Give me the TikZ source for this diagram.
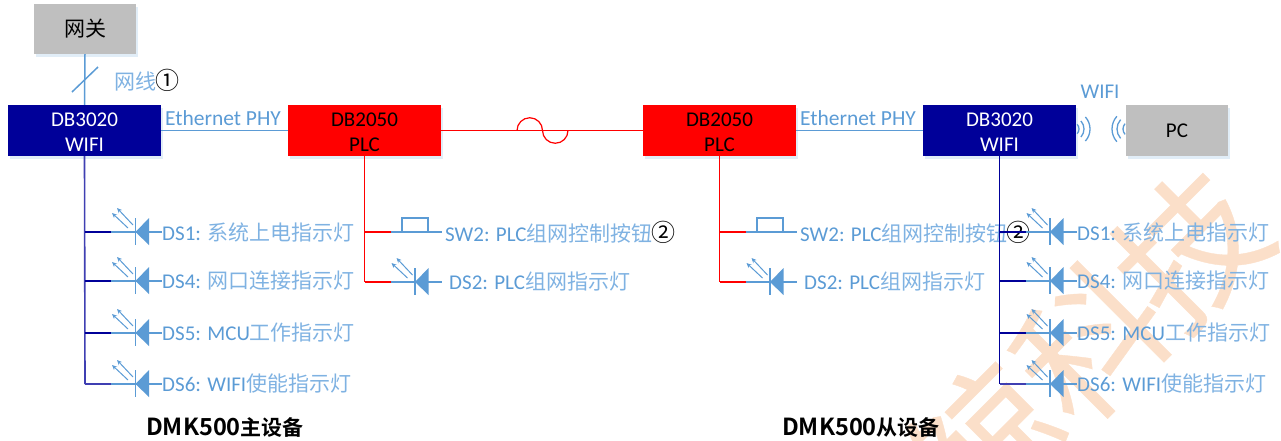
\documentclass[tikz,border=0pt]{standalone}
\usepackage{fontspec}
\setmainfont{Carlito}
\newfontfamily\cn{Noto Sans CJK SC}
\newfontfamily\cnb{Noto Sans CJK SC}[BoldFont={Noto Sans CJK SC Bold}]
\newfontfamily\wmf{Noto Sans CJK SC}[FakeBold=0.25]
\usetikzlibrary{shadows,arrows.meta}
\definecolor{blu}{HTML}{5B9BD5}
\definecolor{txt}{HTML}{5B9BD5}
\definecolor{cnt}{HTML}{7FB2E2}
\definecolor{navy}{HTML}{000099}
\definecolor{vio}{HTML}{3F3FB2}
\definecolor{gry}{HTML}{BFBFBF}
\definecolor{wm}{HTML}{FBDFC9}
\newcommand{\zh}[1]{{\cn\color{cnt}#1}}
\newcommand{\cc}[1]{{\cn\color{black}#1}}
\newcommand{\ci}[1]{{\cn\color{black}\fontsize{24}{25}\selectfont\kern-1pt #1}}
\tikzset{
  box/.style={minimum width=153pt,minimum height=51pt,inner sep=0pt,align=center,
    font=\fontsize{21}{25}\selectfont,
    general shadow={shadow xshift=1.5pt,shadow yshift=-2.5pt,fill=blu,opacity=.18}},
  lbl/.style={anchor=west,inner sep=0pt,text=txt,font=\fontsize{21}{25}\selectfont},
  eth/.style={anchor=center,inner sep=0pt,text=txt,font=\fontsize{21.5}{25}\selectfont},
  wire/.style={draw=blu,line width=1.5pt},
  ttl/.style={anchor=west,inner sep=0pt,font=\fontsize{23.5}{25}\selectfont\cnb\bfseries},
  wmk/.style={text=wm,rotate=45,inner sep=0pt,font=\fontsize{145}{145}\selectfont\wmf},
}
% junction x, row y, wire colour
\newcommand{\lamp}[3]{%
  \begin{scope}[shift={(#1,#2)}]
    \draw[#3,line width=1.6pt] (0,0) -- (26,0);
    \draw[wire] (26,0) -- (77,0);
    \draw[blu,line width=1.5pt] (50.5,-14) -- (50.5,13);
    \fill[blu] (50.5,0) -- (64,-14) -- (64,13) -- cycle;
    \draw[blu,line width=1pt,-{Stealth[length=5pt,width=4.5pt]}] (48,-7) -- (32,-24);
    \draw[blu,line width=1pt,-{Stealth[length=5pt,width=4.5pt]}] (43,-4) -- (27,-19);
  \end{scope}}
\newcommand{\swt}[1]{%
  \begin{scope}[shift={(#1,232)}]
    \draw[red,line width=1.6pt] (0,0) -- (26,0);
    \draw[wire] (26,0) -- (77,0);
    \draw[wire] (37.5,0) -- (37.5,-14) -- (63.5,-14) -- (63.5,0);
  \end{scope}}
\begin{document}
\begin{tikzpicture}[x=1pt,y=-1pt]
\useasboundingbox (0,0) rectangle (1281,440);
\clip (0,0) rectangle (1281,440);
% watermark
\node[wmk] (w1) at (1190,248) {技};
\node[wmk] (w2) at (1090,342) {科};
\node[wmk] (w3) at (985,442) {鲸};
% wifi waves
\foreach \r in {7,12,18} \draw[blu,line width=1.3pt] ([shift={(1072,129)}]-42:\r) arc[start angle=-42,end angle=42,radius=\r];
\foreach \r in {8,14,19} \draw[blu,line width=1.3pt] ([shift={(1131,129)}]138:\r) arc[start angle=138,end angle=222,radius=\r];
% boxes
\node[box,minimum width=102pt,minimum height=50pt,fill=gry] (gw) at (85,29) {\cc{网关}};
\node[box,fill=navy,text=white] (wl) at (84.5,130.5) {\rule{0pt}{17pt}DB3020\\WIFI};
\node[box,fill=red,text=black] (pl) at (364.5,130.5) {\rule{0pt}{17pt}DB2050\\PLC};
\node[box,fill=red,text=black] (pr) at (719.5,130.5) {\rule{0pt}{17pt}DB2050\\PLC};
\node[box,fill=navy,text=white] (wr) at (999.5,130.5) {\rule{0pt}{17pt}DB3020\\WIFI};
\node[box,minimum width=102pt,fill=gry,text=black] (pc) at (1177,130.5) {PC};
% top link
\draw[wire] (gw.south) -- (wl.north);
\coordinate (sa) at (72,92); \coordinate (sb) at (98,67);
\draw[blu,line width=1.5pt] (sa) -- (sb);
\node[lbl] (nw) at (114,80) {\zh{网线}\ci{①}};
\draw[wire] (wl.east) -- (pl.west);
\draw[wire] (pr.east) -- (wr.west);
\node[eth] (e1) at (223,118) {Ethernet PHY};
\node[eth] (e2) at (858,118) {Ethernet PHY};
\node[lbl,anchor=center] (wf) at (1100,92) {WIFI};
% PLC link
\coordinate (b1) at (517,130.5);
\draw[red,line width=1.7pt] (pl.east) -- (pr.west);
\draw[red,line width=1.2pt] (b1) arc[start angle=180,end angle=360,radius=12.75] arc[start angle=180,end angle=0,radius=12.75];
% left LEDs
\draw[vio,line width=1.6pt] (wl.south) -- (85,384);
\lamp{85}{232}{navy}\lamp{85}{281}{navy}\lamp{85}{333}{navy}\lamp{85}{384}{vio}
\node[lbl] (a1) at (162,232) {DS1: \zh{系统上电指示灯}};
\node[lbl] (a2) at (162,281) {DS4: \zh{网口连接指示灯}};
\node[lbl] (a3) at (162,333) {DS5: MCU\zh{工作指示灯}};
\node[lbl] (a4) at (162,384) {DS6: WIFI\zh{使能指示灯}};
% left PLC
\coordinate (j1) at (364.5,232); \coordinate (j2) at (364.5,282);
\draw[red,line width=1.6pt] (pl.south) -- (j2);
\lamp{364.5}{282}{red}
\swt{364.5}
\node[lbl] (b2) at (445,232) {SW2: PLC\zh{组网控制按钮}\ci{②}};
\node[lbl] (b3) at (449,282) {DS2: PLC\zh{组网指示灯}};
% right PLC
\coordinate (j3) at (719.5,232); \coordinate (j4) at (719.5,282);
\draw[red,line width=1.6pt] (pr.south) -- (j4);
\lamp{719.5}{282}{red}
\swt{719.5}
\node[lbl] (c2) at (800,232) {SW2: PLC\zh{组网控制按钮}\ci{②}};
\node[lbl] (c3) at (804,282) {DS2: PLC\zh{组网指示灯}};
% right LEDs
\draw[navy,line width=1.6pt] (wr.south) -- (999.5,384);
\lamp{999.5}{232}{navy}\lamp{999.5}{281}{navy}\lamp{999.5}{333}{navy}\lamp{999.5}{384}{vio}
\node[lbl] (d1) at (1077,232) {DS1: \zh{系统上电指示灯}};
\node[lbl] (d2) at (1077,281) {DS4: \zh{网口连接指示灯}};
\node[lbl] (d3) at (1077,333) {DS5: MCU\zh{工作指示灯}};
\node[lbl] (d4) at (1077,384) {DS6: WIFI\zh{使能指示灯}};
% titles
\node[ttl] (t1) at (146,427) {DMK500{\fontsize{21}{25}\selectfont 主设备}};
\node[ttl] (t2) at (782,427) {DMK500{\fontsize{21}{25}\selectfont 从设备}};
\end{tikzpicture}
\end{document}
